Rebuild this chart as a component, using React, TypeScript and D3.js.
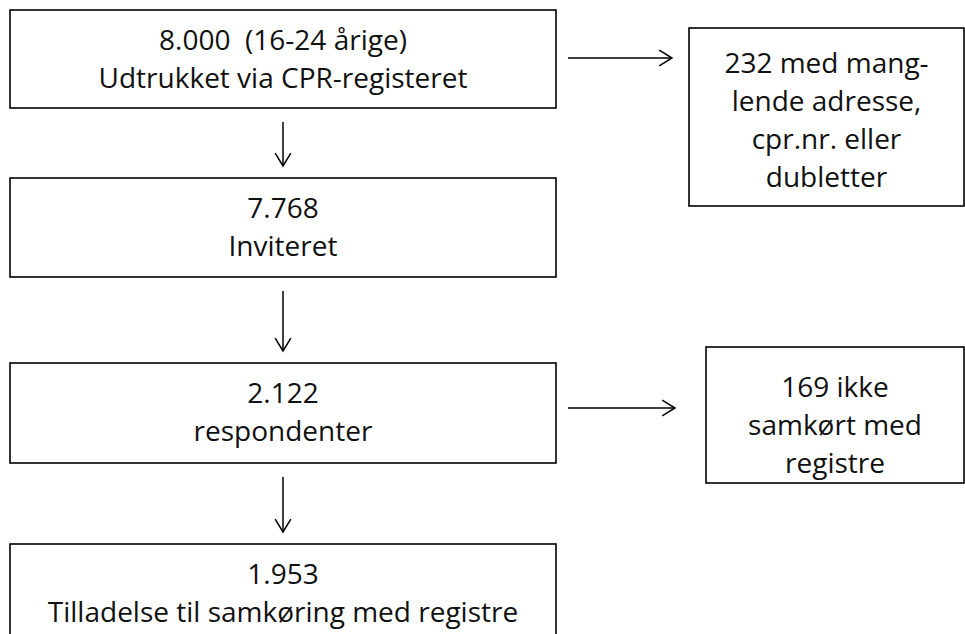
import React, { useRef, useEffect } from "react";
import { select } from "d3";

// flow steps (main column) and exclusions (right column)
const mainSteps = [
  ["8.000  (16-24 årige)", "Udtrukket via CPR-registeret"],
  ["7.768", "Inviteret"],
  ["2.122", "respondenter"],
  ["1.953", "Tilladelse til samkøring med registre"],
];
const sideSteps = [
  { from: 0, lines: ["232 med mang-", "lende adresse,", "cpr.nr. eller", "dubletter"] },
  { from: 2, lines: ["169 ikke", "samkørt med", "registre"] },
];

const width = 965;
const height = 634;

// layout
const mainX = [10, 556];
const mainY = [
  [10, 108],
  [178, 277],
  [363, 463],
  [544, 640],
];
const mainTextOffset = 40;
const sideBoxes = [
  { x: [689, 964], y: [28, 206], textOffset: 45 },
  { x: [706, 964], y: [347, 483], textOffset: 50 },
];
const fontSize = 28;
const lineGap = 38;

const App = () => {
  const ref = useRef(null);

  useEffect(() => {
    const svg = select(ref.current);
    svg.selectAll("*").remove();

    const g = svg.append("g");

    const drawBox = (x0, x1, y0, y1, lines, firstBase) => {
      g.append("rect")
        .attr("x", x0)
        .attr("y", y0)
        .attr("width", x1 - x0)
        .attr("height", y1 - y0)
        .attr("fill", "white")
        .attr("stroke", "black")
        .attr("stroke-width", 1.6);
      const cx = (x0 + x1) / 2;
      g.selectAll(null)
        .data(lines)
        .enter()
        .append("text")
        .attr("x", cx)
        .attr("y", (d, i) => firstBase + i * lineGap)
        .attr("text-anchor", "middle")
        .attr("font-family", "'Open Sans', Lato, sans-serif")
        .attr("font-size", fontSize)
        .attr("fill", "#111")
        .style("white-space", "pre")
        .text((d) => d);
    };

    const arrow = (x1, y1, x2, y2) => {
      const a = Math.atan2(y2 - y1, x2 - x1);
      const len = 15;
      const spread = 0.55;
      g.append("line")
        .attr("x1", x1)
        .attr("y1", y1)
        .attr("x2", x2)
        .attr("y2", y2)
        .attr("stroke", "black")
        .attr("stroke-width", 1.5);
      g.append("path")
        .attr(
          "d",
          `M${x2 - len * Math.cos(a - spread)},${y2 - len * Math.sin(a - spread)}L${x2},${y2}L${
            x2 - len * Math.cos(a + spread)
          },${y2 - len * Math.sin(a + spread)}`
        )
        .attr("fill", "none")
        .attr("stroke", "black")
        .attr("stroke-width", 1.5);
    };

    const midX = (mainX[0] + mainX[1]) / 2;

    mainSteps.forEach((lines, i) => {
      drawBox(mainX[0], mainX[1], mainY[i][0], mainY[i][1], lines, mainY[i][0] + mainTextOffset);
      if (i < mainSteps.length - 1) {
        arrow(midX, mainY[i][1] + 14, midX, mainY[i + 1][0] - 12);
      }
    });

    sideSteps.forEach((s, i) => {
      const b = sideBoxes[i];
      drawBox(b.x[0], b.x[1], b.y[0], b.y[1], s.lines, b.y[0] + b.textOffset);
      const ay = (mainY[s.from][0] + mainY[s.from][1]) / 2 + (i === 0 ? -1 : -5);
      arrow(mainX[1] + 12, ay, b.x[0] - (i === 0 ? 17 : 31), ay);
    });
  }, []);

  return (
    <svg
      ref={ref}
      width={width}
      height={height}
      style={{ position: "absolute", left: 0, top: 0, background: "white" }}
    ></svg>
  );
};

export default App;
